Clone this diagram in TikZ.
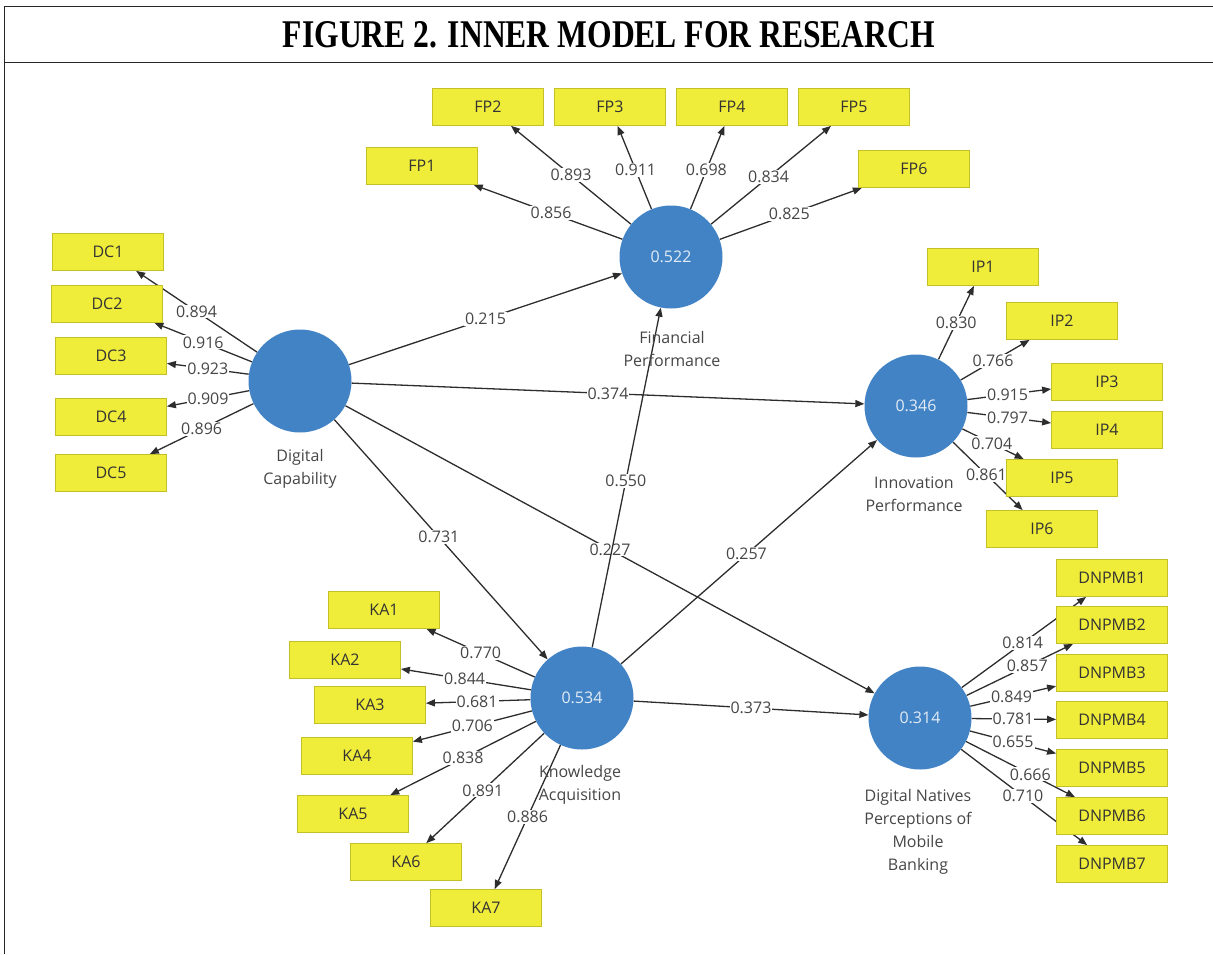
\documentclass[tikz,border=0pt]{standalone}
\usepackage{graphicx}
\usepackage{fontspec}
\setmainfont{Open Sans}
\newfontfamily\titlefont{Liberation Serif}
\usetikzlibrary{arrows.meta,backgrounds}
\definecolor{lvblue}{RGB}{66,131,197}
\definecolor{mvyellow}{RGB}{240,236,58}
\definecolor{mvedge}{RGB}{196,192,40}
\definecolor{linegray}{RGB}{45,45,45}
\definecolor{lbltext}{RGB}{70,70,70}
\begin{document}
\begin{tikzpicture}[x=1pt,y=-1pt,
 latent/.style={circle,fill=lvblue,minimum size=103pt,inner sep=0pt,text=white!85!lvblue,font=\fontsize{16}{18}\selectfont},
 ind/.style={rectangle,fill=mvyellow,draw=mvedge,line width=0.8pt,minimum width=111pt,minimum height=37pt,inner sep=0pt,font=\fontsize{16}{18}\selectfont,text=black!80},
 conn/.style={draw=linegray,line width=1.3pt,-{Triangle[length=9pt,width=7pt]}},
 wt/.style={fill=white,inner sep=1pt,font=\fontsize{16}{18}\selectfont,text=lbltext},
 lvname/.style={align=center,font=\fontsize{16}{23}\selectfont,text=lbltext},
 frame/.style={draw=black!85,line width=1.5pt}
]
\useasboundingbox (0,0) rectangle (1213,954);
% frame and title
\draw[frame] (1213,6.5) -- (4.3,6.5) -- (4.3,954);
\draw[frame] (4.3,62.3) -- (1213,62.3);
\node (title) at (609,35) {\resizebox{652pt}{26pt}{\titlefont\bfseries FIGURE 2. INNER MODEL FOR RESEARCH}};

% latent variables
\node[latent] (FP) at (671,257) {0.522};
\node[latent] (DC) at (300,381) {};
\node[latent] (IP) at (916,406) {0.346};
\node[latent] (KA) at (582,698) {0.534};
\node[latent] (DN) at (920,718) {0.314};

\node[lvname] (FPn) at (672,349) {Financial\\Performance};
\node[lvname] (DCn) at (300,469) {Digital\\Capability};
\node[lvname] (IPn) at (914,494) {Innovation\\Performance};
\node[lvname] (KAn) at (580,785) {Knowledge\\Acquisition};
\node[lvname] (DNn) at (918,832) {Digital Natives\\Perceptions of\\Mobile\\Banking};

% indicators
\node[ind] (FP1) at (422,166) {FP1};
\node[ind] (FP2) at (488,107) {FP2};
\node[ind] (FP3) at (610,107) {FP3};
\node[ind] (FP4) at (732,107) {FP4};
\node[ind] (FP5) at (854,107) {FP5};
\node[ind] (FP6) at (914,169) {FP6};

\node[ind] (DC1) at (108,252) {DC1};
\node[ind] (DC2) at (107,304) {DC2};
\node[ind] (DC3) at (111,356) {DC3};
\node[ind] (DC4) at (111,417) {DC4};
\node[ind] (DC5) at (111,473) {DC5};

\node[ind] (IP1) at (983,267) {IP1};
\node[ind] (IP2) at (1062,321) {IP2};
\node[ind] (IP3) at (1107,382) {IP3};
\node[ind] (IP4) at (1107,430) {IP4};
\node[ind] (IP5) at (1062,478) {IP5};
\node[ind] (IP6) at (1042,529) {IP6};

\node[ind] (KA1) at (384,610) {KA1};
\node[ind] (KA2) at (345,660) {KA2};
\node[ind] (KA3) at (370,705) {KA3};
\node[ind] (KA4) at (357,756) {KA4};
\node[ind] (KA5) at (353,814) {KA5};
\node[ind] (KA6) at (406,862) {KA6};
\node[ind] (KA7) at (486,908) {KA7};

\node[ind] (DN1) at (1112,578) {DNPMB1};
\node[ind] (DN2) at (1112,625) {DNPMB2};
\node[ind] (DN3) at (1112,673) {DNPMB3};
\node[ind] (DN4) at (1112,720) {DNPMB4};
\node[ind] (DN5) at (1112,768) {DNPMB5};
\node[ind] (DN6) at (1112,816) {DNPMB6};
\node[ind] (DN7) at (1112,864) {DNPMB7};

\begin{scope}[on background layer]
% structural paths
\draw[conn] (DC) -- node[wt]{0.215} (FP);
\draw[conn] (DC) -- node[wt]{0.374} (IP);
\draw[conn] (DC) -- node[wt,pos=.49]{0.731} (KA);
\draw[conn] (DC) -- node[wt]{0.227} (DN);
\draw[conn] (KA) -- node[wt,pos=.49]{0.550} (FP);
\draw[conn] (KA) -- node[wt,pos=.49]{0.257} (IP);
\draw[conn] (KA) -- node[wt]{0.373} (DN);
% outer loadings FP
\draw[conn] (FP) -- node[wt,pos=.48]{0.856} (FP1);
\draw[conn] (FP) -- node[wt]{0.893} (FP2);
\draw[conn] (FP) -- node[wt,pos=.47]{0.911} (FP3);
\draw[conn] (FP) -- node[wt,pos=.47]{0.698} (FP4);
\draw[conn] (FP) -- node[wt,pos=.48]{0.834} (FP5);
\draw[conn] (FP) -- node[wt,pos=.49]{0.825} (FP6);
% DC
\draw[conn] (DC) -- node[wt]{0.894} (DC1);
\draw[conn] (DC) -- node[wt]{0.916} (DC2);
\draw[conn] (DC) -- node[wt]{0.923} (DC3);
\draw[conn] (DC) -- node[wt]{0.909} (DC4);
\draw[conn] (DC) -- node[wt]{0.896} (DC5);
% IP
\draw[conn] (IP) -- node[wt]{0.830} (IP1);
\draw[conn] (IP) -- node[wt,pos=.47]{0.766} (IP2);
\draw[conn] (IP) -- node[wt,pos=.48]{0.915} (IP3);
\draw[conn] (IP) -- node[wt,pos=.48]{0.797} (IP4);
\draw[conn] (IP) -- node[wt,pos=.48]{0.704} (IP5);
\draw[conn] (IP) -- node[wt,pos=.48]{0.861} (IP6);
% KA
\draw[conn] (KA) -- node[wt]{0.770} (KA1);
\draw[conn] (KA) -- node[wt,pos=.51]{0.844} (KA2);
\draw[conn] (KA) -- node[wt,pos=.51]{0.681} (KA3);
\draw[conn] (KA) -- node[wt]{0.706} (KA4);
\draw[conn] (KA) -- node[wt]{0.838} (KA5);
\draw[conn] (KA) -- node[wt,pos=.52]{0.891} (KA6);
\draw[conn] (KA) -- node[wt]{0.886} (KA7);
% DNPMB
\draw[conn] (DN) -- node[wt,pos=.49]{0.814} (DN1);
\draw[conn] (DN) -- node[wt,pos=.57]{0.857} (DN2);
\draw[conn] (DN) -- node[wt,pos=.48]{0.849} (DN3);
\draw[conn] (DN) -- node[wt,pos=.49]{0.781} (DN4);
\draw[conn] (DN) -- node[wt]{0.655} (DN5);
\draw[conn] (DN) -- node[wt,pos=.59]{0.666} (DN6);
\draw[conn] (DN) -- node[wt,pos=.49]{0.710} (DN7);
\end{scope}
\end{tikzpicture}
\end{document}
